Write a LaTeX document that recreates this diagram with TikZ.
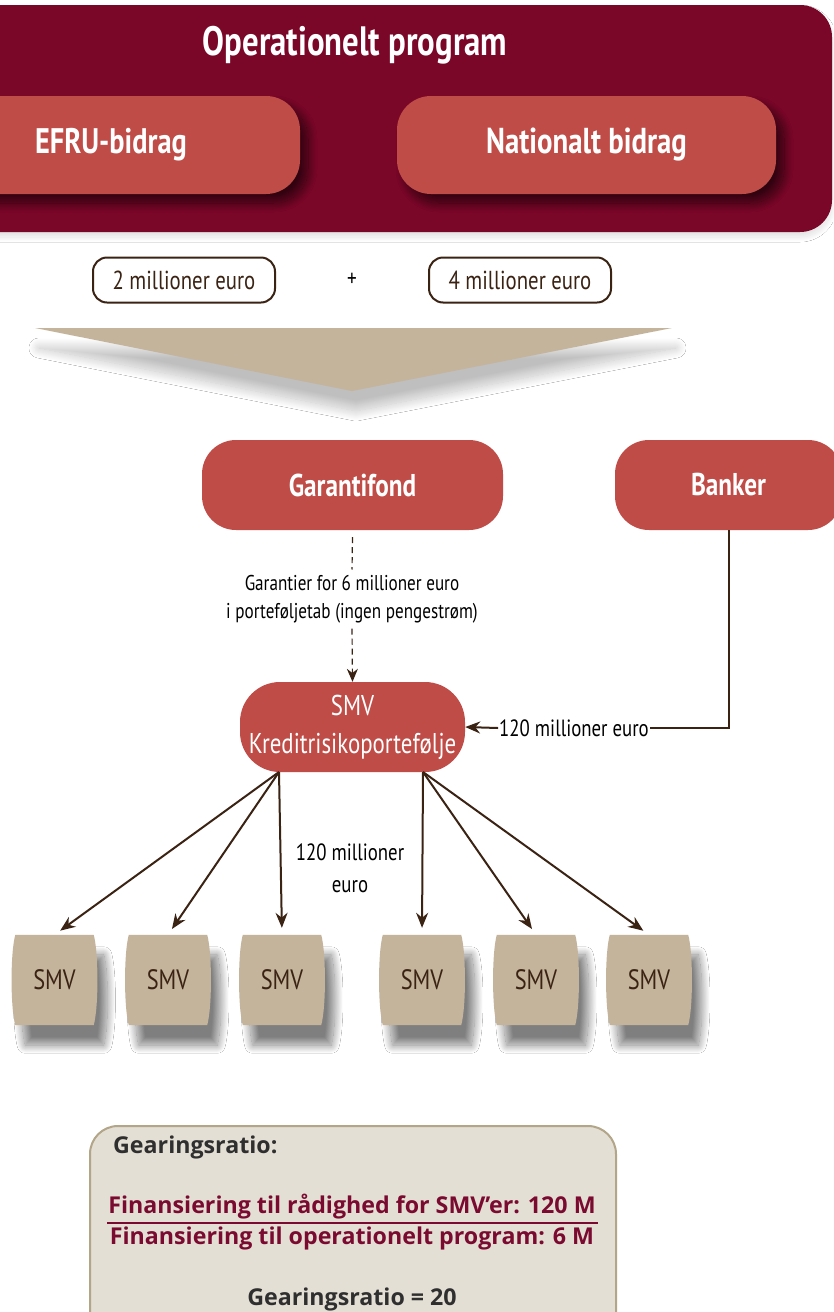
\documentclass[tikz,border=0pt]{standalone}
\usepackage{fontspec}
\setmainfont[FakeStretch=0.8]{PT Sans}
\newfontfamily\boxfont{Open Sans}
\usetikzlibrary{shadows.blur,arrows.meta,calc}
\definecolor{bannerred}{HTML}{7A0628}
\definecolor{boxred}{HTML}{C04C47}
\definecolor{tan}{HTML}{C4B49B}
\definecolor{dbrown}{HTML}{3B2314}
\definecolor{panelfill}{HTML}{E4DFD5}
\definecolor{panelline}{HTML}{B3A588}
\definecolor{maroon}{HTML}{7A0A30}
\definecolor{dgray}{HTML}{2F2F2F}
\tikzset{
  redbox/.style={fill=boxred, rounded corners=34pt, text=white, font=\bfseries\fontsize{31.5}{34}\selectfont, inner sep=0pt},
  darkshadow/.style={blur shadow={shadow xshift=8pt, shadow yshift=-9pt, shadow blur radius=9pt, shadow blur steps=30, shadow opacity=60}},
  lightshadow/.style={blur shadow={shadow xshift=10pt, shadow yshift=-20pt, shadow blur radius=8pt, shadow blur steps=30, shadow opacity=50}},
  pill/.style={draw=dbrown, line width=2pt, fill=white, rounded corners=14pt, minimum width=182pt, minimum height=45pt, font=\fontsize{26}{28}\selectfont, text=dbrown},
  smvbox/.style={minimum width=86pt, minimum height=90pt, inner sep=0pt, font=\fontsize{28}{30}\selectfont, text=dbrown},
  arr/.style={draw=dbrown, line width=2pt, -{Stealth[length=15pt,width=12pt]}},
  lbl/.style={text=black, align=center},
  panelbold/.style={font=\boxfont\bfseries\fontsize{23.2}{25}\selectfont}
}
\begin{document}
\begin{tikzpicture}[x=1pt,y=-1pt]
\useasboundingbox (0,0) rectangle (833,1312);
\fill[white] (0,0) rectangle (833,1312);

% banner
\node[fill=bannerred, rounded corners=32pt, minimum width=892pt, minimum height=227pt,
  blur shadow={shadow xshift=0pt, shadow yshift=-5pt, shadow blur radius=5pt, shadow blur steps=20, shadow opacity=12}] (banner) at (386,118.5) {};
\node[text=white, font=\bfseries\fontsize{41}{44}\selectfont] (title) at (355,45) {Operationelt program};

\node[redbox, darkshadow, minimum width=380pt, minimum height=98pt] (efru) at (110,145) {};
\node[text=white, font=\bfseries\fontsize{35.5}{38}\selectfont] (efrut) at (111,145) {EFRU-bidrag};
\node[redbox, darkshadow, minimum width=379pt, minimum height=98pt, font=\bfseries\fontsize{36}{38}\selectfont] (nat) at (586.5,145) {Nationalt bidrag};

% amounts
\node[pill] (p1) at (184,280) {2 millioner euro};
\node[font=\fontsize{24}{26}\selectfont] (plus) at (352,280) {+};
\node[pill] (p2) at (520,280) {4 millioner euro};

% funnel triangle
\fill[tan, blur shadow={shadow xshift=4pt, shadow yshift=-20pt, shadow blur radius=10pt, shadow blur steps=30, shadow opacity=25}]
  (35,328) -- (672,328) -- (352,391) -- cycle;

% second level
\node[redbox, minimum width=301pt, minimum height=90pt] (gar) at (352.5,485) {Garantifond};
\node[redbox, minimum width=227pt, minimum height=90pt] (bank) at (728.5,485) {Banker};

\node[lbl, font=\fontsize{21.4}{28}\selectfont] (glbl) at (352,599) {Garantier for 6 millioner euro\\i porteføljetab (ingen pengestrøm)};

\node[fill=boxred, rounded corners=40pt, minimum width=225pt, minimum height=90pt, text=white,
  font=\fontsize{28.6}{38}\selectfont, align=center, inner sep=0pt] (kred) at (352.5,727) {SMV\\Kreditrisikoportefølje};

\draw[draw=dbrown, line width=1.2pt, dash pattern=on 6pt off 4pt] ($(gar.south)+(0,7)$) -- ($(glbl.north)+(0,-2)$);
\draw[draw=dbrown, line width=1.2pt, dash pattern=on 6pt off 4pt, -{Stealth[length=13pt,width=11pt]}] ($(glbl.south)+(0,2)$) -- (kred.north);

\node[lbl, font=\fontsize{23.5}{26}\selectfont, inner sep=1pt] (blbl) at (574,728) {120 millioner euro};
\draw[draw=dbrown, line width=2pt] (bank.south) |- (blbl.east);
\draw[arr] (blbl.west) -- (kred.east);

% SMVs
\foreach \n/\x in {1/54.5,2/168,3/282,4/422,5/536,6/649}{
  \node[smvbox] (s\n) at (\x,980) {};
  \fill[tan, lightshadow]
    ($(s\n.north west)+(4,0)$) -- ($(s\n.north east)+(-4,0)$)
    .. controls ($(s\n.north east)+(1,18)$) and ($(s\n.south east)+(1,-18)$) .. ($(s\n.south east)+(-4,0)$)
    -- ($(s\n.south west)+(4,0)$)
    .. controls ($(s\n.south west)+(-1,-18)$) and ($(s\n.north west)+(-1,18)$) .. cycle;
  \node[smvbox] at (s\n) {SMV};
}

\coordinate (kl) at (279,772);
\coordinate (kr) at (423,772);
\foreach \n in {1,2,3}{ \draw[arr, shorten >=7pt] (kl) -- (s\n.north); }
\foreach \n in {4,5,6}{ \draw[arr, shorten >=7pt] (kr) -- (s\n.north); }

\node[lbl, font=\fontsize{23.5}{32}\selectfont] (mlbl) at (350,868) {120 millioner\\euro};

% panel
\node[fill=panelfill, draw=panelline, line width=2pt, rounded corners=28pt, minimum width=526pt, minimum height=214pt] (panel) at (353,1233) {};
\node[panelbold, text=dgray, anchor=west, inner sep=0pt] (gtitle) at (113,1147) {Gearingsratio:};
\node[panelbold, text=maroon] (num) at (352,1207) {Finansiering til rådighed for SMV’er: 120 M};
\node[panelbold, text=maroon] (den) at (352,1238) {Finansiering til operationelt program: 6 M};
\draw[maroon, line width=1.2pt] (107,1223) -- (598,1223);
\node[panelbold, text=dgray] (res) at (352,1299) {Gearingsratio = 20};
\end{tikzpicture}
\end{document}
